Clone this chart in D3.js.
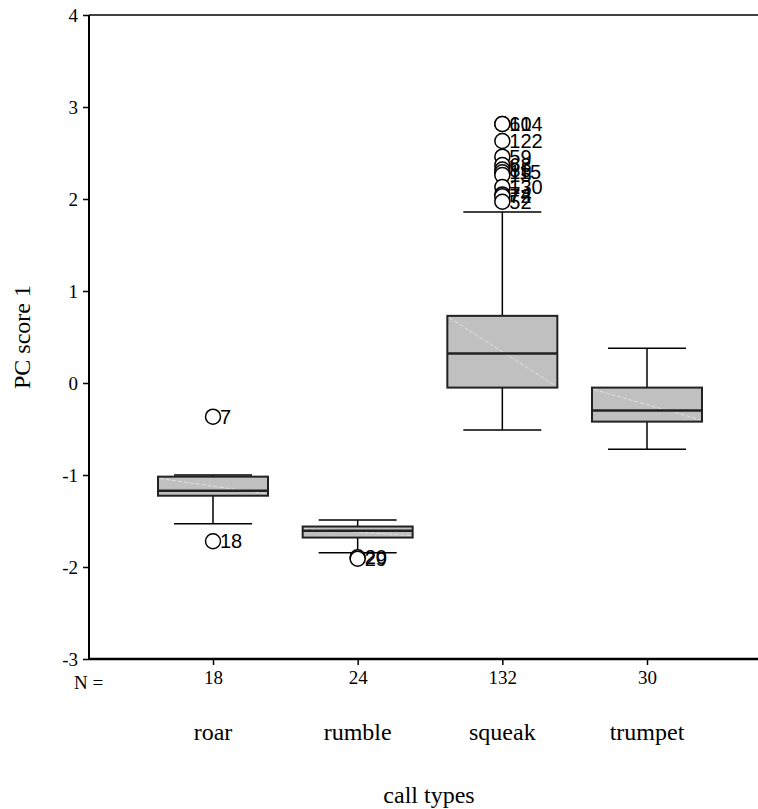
<!DOCTYPE html>
<html>
<head>
<meta charset="utf-8">
<title>PC score 1 by call type</title>
<script src="https://d3js.org/d3.v7.min.js"></script>
<style>
body { margin: 0; background: #fff; }
.serif { font-family: "Liberation Serif", "Times New Roman", serif; fill: #000; }
.sans { font-family: "Liberation Sans", Arial, sans-serif; fill: #000; }
</style>
</head>
<body>
<script>
// chart values
var categories = ["roar", "rumble", "squeak", "trumpet"];
var counts = [18, 24, 132, 30];
var whiskerLow = [-1.53, -1.845, -0.51, -0.72];
var q1 = [-1.225, -1.68, -0.05, -0.42];
var medians = [-1.17, -1.605, 0.32, -0.30];
var q3 = [-1.018, -1.56, 0.73, -0.05];
var whiskerHigh = [-1.0, -1.49, 1.86, 0.377];
var outliers = [
  { cat: "roar", value: -0.366, label: "7" },
  { cat: "roar", value: -1.72, label: "18" },
  { cat: "rumble", value: -1.895, label: "20" },
  { cat: "rumble", value: -1.91, label: "29" },
  { cat: "squeak", value: 2.815, label: "61" },
  { cat: "squeak", value: 2.815, label: "104" },
  { cat: "squeak", value: 2.63, label: "122" },
  { cat: "squeak", value: 2.46, label: "59" },
  { cat: "squeak", value: 2.37, label: "63" },
  { cat: "squeak", value: 2.32, label: "85" },
  { cat: "squeak", value: 2.29, label: "115" },
  { cat: "squeak", value: 2.26, label: "15" },
  { cat: "squeak", value: 2.13, label: "130" },
  { cat: "squeak", value: 2.05, label: "74" },
  { cat: "squeak", value: 2.03, label: "72" },
  { cat: "squeak", value: 1.97, label: "52" }
];
var yTicks = [-3, -2, -1, 0, 1, 2, 3, 4];

var width = 758, height = 809;
var plotLeft = 89, plotTop = 15, plotBottom = 659, plotRight = 771;

var svg = d3.select("body").append("svg")
  .attr("width", width)
  .attr("height", height);

var y = d3.scaleLinear().domain([-3, 4]).range([plotBottom, plotTop]);
var x = d3.scalePoint().domain(categories).range([213, 647]);

var boxHalf = 55, capHalf = 39;

// top frame line
svg.append("line")
  .attr("x1", plotLeft).attr("x2", plotRight).attr("y1", plotTop).attr("y2", plotTop)
  .attr("stroke", "#000").attr("stroke-width", 1.5);

// y axis (plain hyphen minus like the original)
var yAxis = d3.axisLeft(y).tickValues(yTicks).tickSize(6).tickPadding(5)
  .tickFormat(function(d) { return String(d); });
var gy = svg.append("g").attr("transform", "translate(" + plotLeft + ",0)").call(yAxis);
gy.select(".domain").attr("d", "M0," + plotTop + "V" + plotBottom).attr("stroke", "#000").attr("stroke-width", 2);
gy.selectAll(".tick line").attr("stroke", "#000").attr("stroke-width", 1.5);
gy.selectAll(".tick text").attr("class", "serif").style("font-size", "19px");

// x axis
var xAxis = d3.axisBottom(x).tickSize(6).tickPadding(6)
  .tickFormat(function(d, i) { return counts[i]; });
var gx = svg.append("g").attr("transform", "translate(0," + plotBottom + ")").call(xAxis);
gx.select(".domain").attr("d", "M" + plotLeft + ",0H" + plotRight).attr("stroke", "#000").attr("stroke-width", 2.5);
gx.selectAll(".tick line").attr("stroke", "#000").attr("stroke-width", 1.5);
gx.selectAll(".tick text").attr("class", "serif").style("font-size", "19px");

svg.append("text").attr("class", "serif")
  .attr("x", 74).attr("y", plotBottom + 30)
  .style("font-size", "19px")
  .text("N =");

// boxes
var boxes = categories.map(function(c, i) {
  return { cat: c, lo: whiskerLow[i], q1: q1[i], med: medians[i], q3: q3[i], hi: whiskerHigh[i] };
});

var g = svg.append("g");
var b = g.selectAll("g.box").data(boxes).enter().append("g").attr("class", "box");

b.append("line")
  .attr("x1", function(d) { return x(d.cat); })
  .attr("x2", function(d) { return x(d.cat); })
  .attr("y1", function(d) { return y(d.hi); })
  .attr("y2", function(d) { return y(d.lo); })
  .attr("stroke", "#000").attr("stroke-width", 1.5);

b.selectAll("line.cap").data(function(d) { return [{ cat: d.cat, v: d.lo }, { cat: d.cat, v: d.hi }]; })
  .enter().append("line").attr("class", "cap")
  .attr("x1", function(d) { return x(d.cat) - capHalf; })
  .attr("x2", function(d) { return x(d.cat) + capHalf; })
  .attr("y1", function(d) { return y(d.v); })
  .attr("y2", function(d) { return y(d.v); })
  .attr("stroke", "#000").attr("stroke-width", 1.5);

b.append("rect")
  .attr("x", function(d) { return x(d.cat) - boxHalf; })
  .attr("width", boxHalf * 2)
  .attr("y", function(d) { return y(d.q3); })
  .attr("height", function(d) { return y(d.q1) - y(d.q3); })
  .attr("fill", "#c0c0c0")
  .attr("stroke", "#222").attr("stroke-width", 2);

// faint diagonal inside box
b.append("line")
  .attr("x1", function(d) { return x(d.cat) - boxHalf + 2; })
  .attr("x2", function(d) { return x(d.cat) + boxHalf - 2; })
  .attr("y1", function(d) { return y(d.q3) + 2; })
  .attr("y2", function(d) { return y(d.q1) - 2; })
  .attr("stroke", "#e2e2e2").attr("stroke-width", 1)
  .attr("stroke-dasharray", "4,2");

b.append("line")
  .attr("x1", function(d) { return x(d.cat) - boxHalf; })
  .attr("x2", function(d) { return x(d.cat) + boxHalf; })
  .attr("y1", function(d) { return y(d.med); })
  .attr("y2", function(d) { return y(d.med); })
  .attr("stroke", "#222").attr("stroke-width", 2.5);

// outliers
var o = g.selectAll("g.out").data(outliers).enter().append("g").attr("class", "out");
o.append("circle")
  .attr("cx", function(d) { return x(d.cat); })
  .attr("cy", function(d) { return y(d.value); })
  .attr("r", 7.5)
  .attr("fill", "#fff")
  .attr("stroke", "#000").attr("stroke-width", 1.5);
o.append("text").attr("class", "sans")
  .attr("x", function(d) { return x(d.cat) + 7; })
  .attr("y", function(d) { return y(d.value) + 7; })
  .style("font-size", "20px")
  .text(function(d) { return d.label; });

// category labels
svg.selectAll("text.cat").data(categories).enter().append("text")
  .attr("class", "serif cat")
  .attr("x", function(d) { return x(d); })
  .attr("y", 740)
  .attr("text-anchor", "middle")
  .style("font-size", "24px")
  .text(function(d) { return d; });

svg.append("text").attr("class", "serif")
  .attr("x", 429).attr("y", 803)
  .attr("text-anchor", "middle")
  .style("font-size", "24px")
  .text("call types");

svg.append("text").attr("class", "serif")
  .attr("transform", "translate(30,337) rotate(-90)")
  .attr("text-anchor", "middle")
  .style("font-size", "24px")
  .text("PC score 1");
</script>
</body>
</html>
